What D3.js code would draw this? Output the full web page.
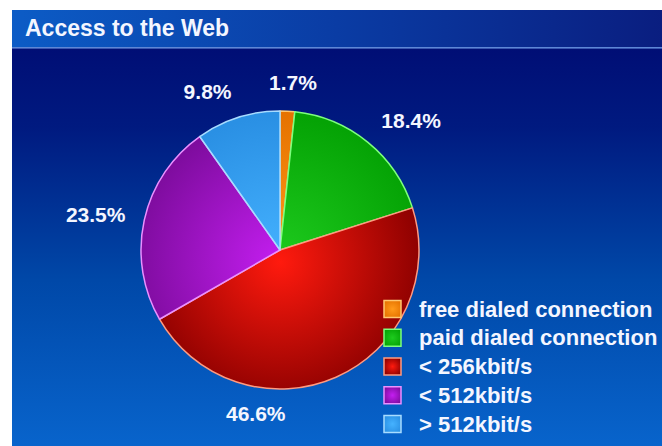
<!DOCTYPE html>
<html>
<head>
<meta charset="utf-8">
<script src="https://cdn.jsdelivr.net/npm/d3@7"></script>
<style>
  html, body { margin: 0; padding: 0; background: #ffffff; }
  svg { display: block; }
  text { font-family: "Liberation Sans", Arial, sans-serif; font-weight: bold; fill: #f4f6ff; }
</style>
</head>
<body>
<svg id="chart" width="662" height="446"></svg>
<script>
// Share of web access by connection type (%)
const categories = ["free dialed connection", "paid dialed connection", "< 256kbit/s", "< 512kbit/s", "> 512kbit/s"];
const shares = [1.7, 18.4, 46.6, 23.5, 9.8];
const shareLabels = ["1.7%", "18.4%", "46.6%", "23.5%", "9.8%"];

// Slice shading: inner colour, outer colour, outline colour
const innerColors = ["#ff9a1a", "#1ecb1e", "#ff1a0e", "#c41ef0", "#45b2ff"];
const outerColors = ["#e67300", "#05a305", "#8a0000", "#7e0c9e", "#2a90e4"];
const edgeColors  = ["#ffc870", "#7dff7d", "#ff9a80", "#ea90ff", "#a8dcff"];

// Label placement tweaks relative to the outer label ring
const labelNudge = [[3.5, 10], [18.5, 8], [-96, 1], [-10.5, 3], [-18.5, 11]];

const W = 662, H = 446;
const svg = d3.select("#chart");
const defs = svg.append("defs");

// Panel background
const bodyGrad = defs.append("linearGradient").attr("id", "bodyGrad")
  .attr("x1", 0).attr("y1", 0).attr("x2", 0).attr("y2", 1);
[[0, "#000870"], [0.27, "#001a80"], [0.62, "#0048a8"], [1, "#0864cc"]]
  .forEach(([o, c]) => bodyGrad.append("stop").attr("offset", o).attr("stop-color", c));

const titleGrad = defs.append("linearGradient").attr("id", "titleGrad")
  .attr("x1", 0).attr("y1", 0).attr("x2", 1).attr("y2", 0);
[[0, "#0c5cc6"], [0.5, "#0a3ca4"], [1, "#0a1e80"]]
  .forEach(([o, c]) => titleGrad.append("stop").attr("offset", o).attr("stop-color", c));

const panelX = 12, panelY = 10, titleH = 37;
svg.append("rect").attr("x", panelX).attr("y", panelY)
  .attr("width", W - panelX).attr("height", H - panelY).attr("fill", "url(#bodyGrad)");
svg.append("rect").attr("x", panelX).attr("y", panelY)
  .attr("width", W - panelX).attr("height", titleH).attr("fill", "url(#titleGrad)");
svg.append("rect").attr("x", panelX).attr("y", panelY + titleH)
  .attr("width", W - panelX).attr("height", 1.6).attr("fill", "#6f9ce8").attr("opacity", 0.85);

svg.append("text").attr("x", 25).attr("y", 36)
  .style("font-size", "23px").text("Access to the Web");

// Pie
const cx = 280, cy = 250, radius = 139;
const pie = d3.pie().value(d => d).sort(null);
const arcs = pie(shares);
const arc = d3.arc().innerRadius(0).outerRadius(radius);
const labelArc = d3.arc().innerRadius(178).outerRadius(178);

categories.forEach((c, i) => {
  // centred on the pie, in the pie group's own coordinates
  const g = defs.append("radialGradient").attr("id", "slice" + i)
    .attr("gradientUnits", "userSpaceOnUse")
    .attr("cx", 0).attr("cy", 12).attr("r", radius * 1.05);
  g.append("stop").attr("offset", 0).attr("stop-color", innerColors[i]);
  g.append("stop").attr("offset", 1).attr("stop-color", outerColors[i]);

  const lg = defs.append("radialGradient").attr("id", "key" + i)
    .attr("cx", 0.5).attr("cy", 0.5).attr("r", 0.6);
  lg.append("stop").attr("offset", 0).attr("stop-color", innerColors[i]);
  lg.append("stop").attr("offset", 1).attr("stop-color", outerColors[i]);
});

const pieG = svg.append("g").attr("transform", `translate(${cx},${cy})`);
pieG.selectAll("path").data(arcs).join("path")
  .attr("d", arc)
  .attr("fill", (d, i) => `url(#slice${i})`)
  .attr("stroke", (d, i) => edgeColors[i])
  .attr("stroke-width", 1.5)
  .attr("stroke-linejoin", "round");

pieG.selectAll("text").data(arcs).join("text")
  .attr("transform", (d, i) => {
    const [x, y] = labelArc.centroid(d);
    return `translate(${x + labelNudge[i][0]},${y + labelNudge[i][1]})`;
  })
  .attr("text-anchor", "middle")
  .attr("dominant-baseline", "central")
  .style("font-size", "21px")
  .text((d, i) => shareLabels[i]);

// Legend
const legY = d3.scalePoint().domain(categories).range([309, 424]);
const legend = svg.append("g");
const rows = legend.selectAll("g").data(categories).join("g")
  .attr("transform", d => `translate(384,${legY(d)})`);
rows.append("rect")
  .attr("x", 0).attr("y", -8.5).attr("width", 17).attr("height", 17)
  .attr("fill", (d, i) => `url(#key${i})`)
  .attr("stroke", (d, i) => edgeColors[i]).attr("stroke-width", 1.5);
rows.append("text")
  .attr("x", 35).attr("y", 0)
  .attr("dominant-baseline", "central")
  .style("font-size", "22px")
  .text(d => d);
</script>
</body>
</html>
